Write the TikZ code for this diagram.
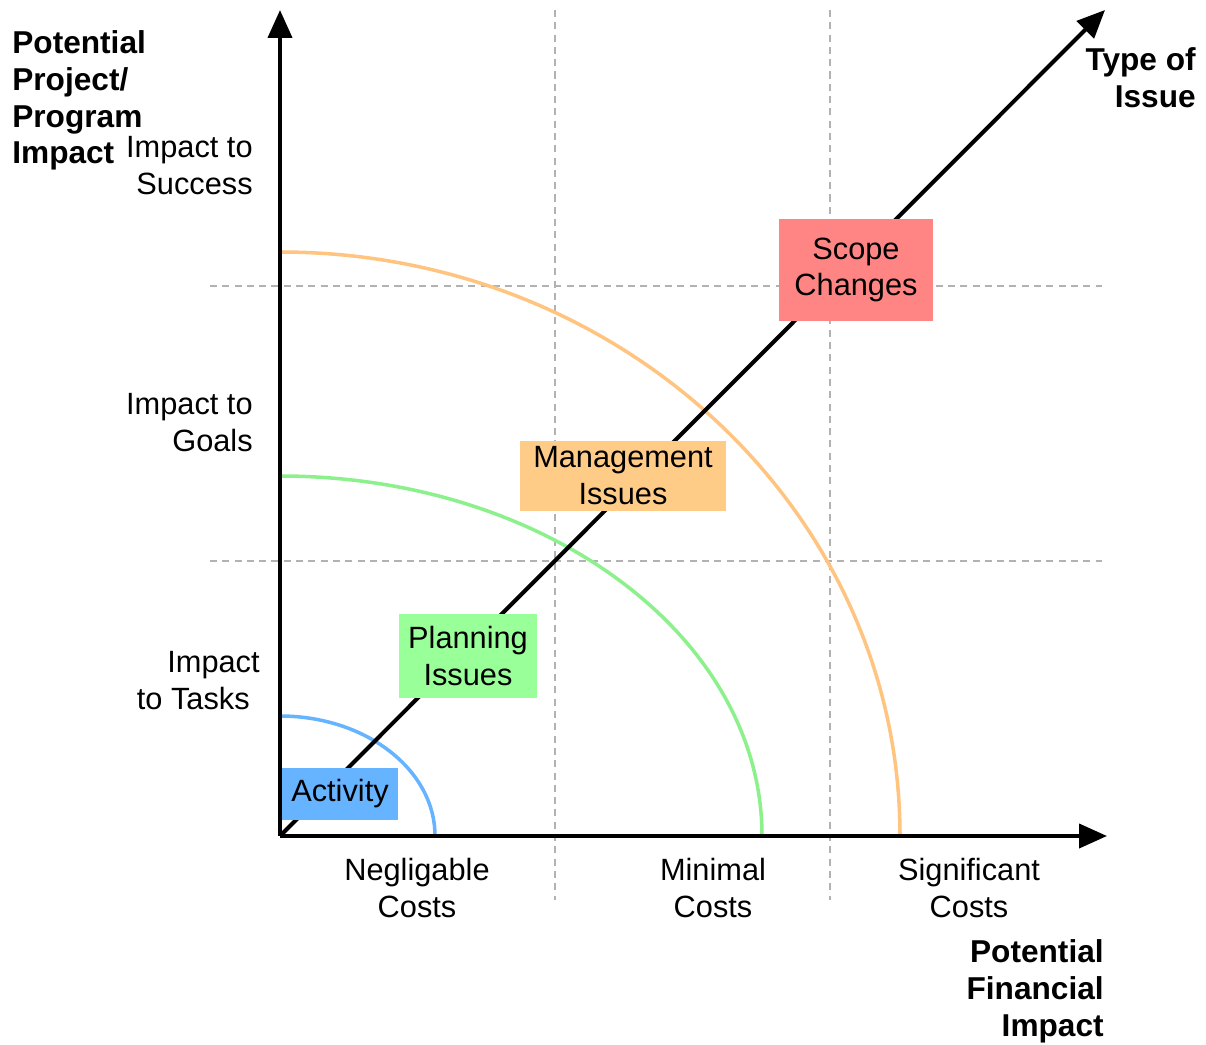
\documentclass[tikz,border=0pt]{standalone}
\usepackage{fontspec}
\setmainfont{Liberation Sans}
\usetikzlibrary{arrows.meta}

\definecolor{actblue}{RGB}{102,179,255}
\definecolor{plangreen}{RGB}{153,255,153}
\definecolor{arcgreen}{RGB}{140,240,140}
\definecolor{mgmtorange}{RGB}{255,204,136}
\definecolor{arcorange}{RGB}{255,197,128}
\definecolor{scopered}{RGB}{255,133,133}

\begin{document}
\begin{tikzpicture}[x=0.02cm,y=-0.02cm,
    grid/.style={draw=gray!60, line width=0.6pt, dash pattern=on 4pt off 3pt},
    axis/.style={line width=2.3pt, -{Triangle[length=0.56cm,width=0.48cm]}},
    level/.style={line width=2pt},
    issue/.style={inner sep=0pt, align=center, font=\fontsize{17.5}{21}\selectfont},
    title/.style={inner sep=0pt, font=\fontsize{18}{21}\selectfont\bfseries}]

        \useasboundingbox (0,0) rectangle (1206,1044);

        \coordinate (o)  at (280,836);
        \coordinate (ty) at (280,10);
        \coordinate (tx) at (1107,836);
        \coordinate (td) at (1105,10);

        % dashed grid
        \draw[grid] (555,10)  -- (555,900);
        \draw[grid] (830,10)  -- (830,900);
        \draw[grid] (210,286) -- (1102,286);
        \draw[grid] (210,561) -- (1102,561);

        % levels
        \draw[level, actblue]   (280,716) arc[start angle=-90, end angle=0, x radius=155, y radius=120];
        \draw[level, arcgreen]  (280,476) arc[start angle=-90, end angle=0, x radius=482, y radius=360];
        \draw[level, arcorange] (280,252) arc[start angle=-90, end angle=0, x radius=620, y radius=584];

        \draw[axis] (o) -- (td);

        \begin{scope}[every node/.style={issue}]
          \node[fill=actblue, minimum width=2.32cm, minimum height=1.04cm]    (1) at (340,794) {Activity};
          \node[fill=plangreen, minimum width=2.76cm, minimum height=1.68cm]  (2) at (468,656) {Planning\\Issues};
          \node[fill=mgmtorange, minimum width=4.14cm, minimum height=1.40cm] (3) at (623,476) {Management\\Issues};
          \node[fill=scopered, minimum width=3.10cm, minimum height=2.06cm]   (4) at (856,270) {Scope\\Changes};
        \end{scope}

        \draw[axis] (o) -- (ty);
        \draw[axis] (o) -- (tx);

        \begin{scope}[every node/.style={issue}]
          \node[title, anchor=north west, align=left] (py) at (12,30) {Potential\\Project/\\Program\\Impact};
          \node[anchor=north east, align=right] (s1) at (253,136) {Impact to\\Success};
          \node[anchor=north east, align=right] (s2) at (253,393) {Impact to\\Goals};
          \node[anchor=north east, align=right] (s3) at (260,651) {Impact\\to Tasks\hspace*{0.2cm}};
          \node[anchor=north] (c1) at (417,858) {Negligable\\Costs};
          \node[anchor=north] (c2) at (713,858) {Minimal\\Costs};
          \node[anchor=north] (c3) at (969,858) {Significant\\Costs};
          \node[title, anchor=north east, align=right] (pt) at (1196,47) {Type of\\Issue};
          \node[title, anchor=north east, align=right] (px) at (1104,939) {Potential\\Financial\\Impact};
        \end{scope}

      \end{tikzpicture}
\end{document}
